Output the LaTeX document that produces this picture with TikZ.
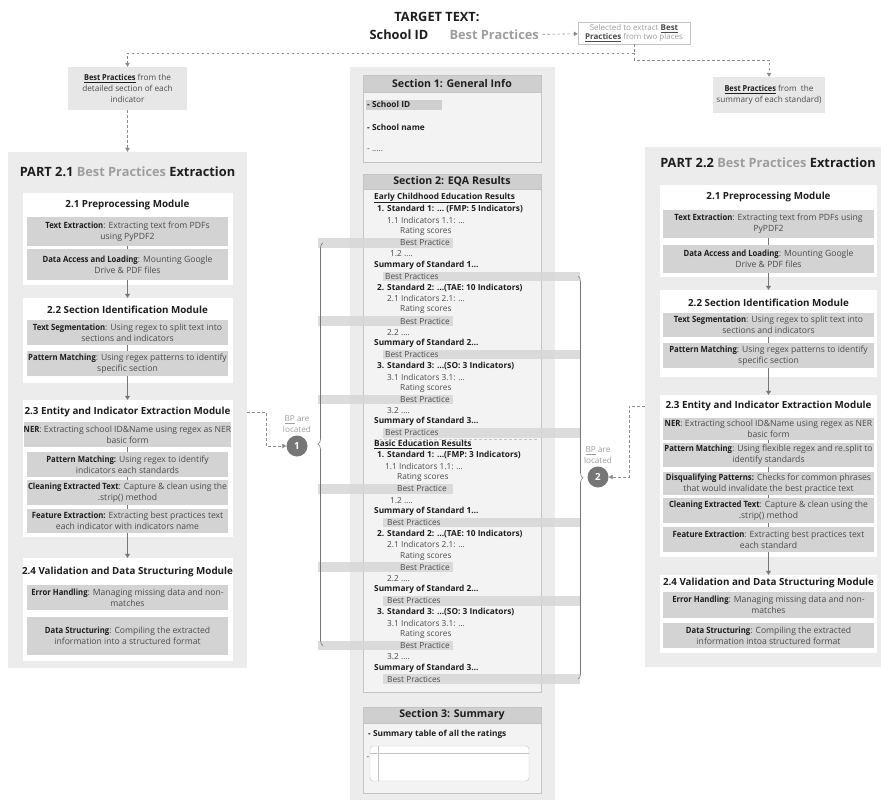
\documentclass[tikz,border=0pt]{standalone}
\usepackage{fontspec}
\setmainfont{Open Sans}
\newfontfamily\kwfont{Open Sans}[FakeStretch=0.9]
\usetikzlibrary{arrows.meta,positioning,decorations.pathreplacing}

\definecolor{panelbg}{RGB}{236,236,236}
\definecolor{subbg}{RGB}{211,211,211}
\definecolor{headbg}{RGB}{207,207,207}
\definecolor{secbg}{RGB}{243,243,243}
\definecolor{secline}{RGB}{196,196,196}
\definecolor{bandbg}{RGB}{214,214,214}
\definecolor{inkdark}{RGB}{30,30,30}
\definecolor{inkgray}{RGB}{75,75,75}
\definecolor{inklight}{RGB}{158,158,158}
\definecolor{linegray}{RGB}{118,118,118}

\newcommand{\ftiny}{\fontsize{8.2}{10.6}\selectfont}
\newcommand{\fsel}{\fontsize{8}{9.4}\selectfont}
\newcommand{\fline}{\fontsize{8.3}{10}\selectfont}
\newcommand{\fsub}{\fontsize{8.6}{10.6}\selectfont}
\newcommand{\fmod}{\fontsize{9.8}{12}\selectfont}
\newcommand{\fsec}{\fontsize{10.6}{12}\selectfont}
\newcommand{\fpart}{\fontsize{12.8}{15}\selectfont}
\newcommand{\ftop}{\fontsize{12.8}{15}\selectfont}
\newcommand{\kw}[1]{\textcolor{inkdark}{\kwfont\bfseries #1}}

\begin{document}
\begin{tikzpicture}[x=1pt,y=-1pt,
  panel/.style={fill=panelbg,inner sep=0pt},
  module/.style={fill=white,inner sep=0pt},
  subbox/.style={fill=subbg,inner sep=0pt,align=center,font=\fsub,text=inkgray},
  modtitle/.style={font=\fmod\bfseries,text=inkdark},
  parttitle/.style={font=\fpart\bfseries,text=inkdark},
  secbox/.style={draw=secline,fill=secbg,inner sep=0pt},
  sechead/.style={draw=secline,fill=headbg,inner sep=0pt,font=\fsec\bfseries,text=inkdark},
  grpline/.style={font=\fline\bfseries,text=inkdark,inner sep=0pt},
  stdline/.style={font=\fline\bfseries,text=inkdark,inner sep=0pt},
  txtline/.style={font=\fline,text=inkgray,inner sep=0pt},
  bpline/.style={font=\fline,text=inkgray,inner sep=0pt},
  notebox/.style={fill=subbg!55,inner sep=0pt,align=center,font=\ftiny,text=inkgray},
  flow/.style={draw=linegray,line width=.8pt,-{Triangle[width=5pt,length=4pt]}},
  link/.style={draw=linegray,line width=.6pt},
  dashflow/.style={draw=linegray!85,line width=.6pt,dash pattern=on 2.5pt off 2.5pt,-{Triangle[width=4.5pt,length=4pt]}},
  dashlink/.style={draw=linegray!85,line width=.6pt,dash pattern=on 2.5pt off 2.5pt},
  bpbrace/.style={draw=linegray,line width=.6pt,decorate,decoration={brace,amplitude=5pt}},
  bpdot/.style={circle,fill=linegray,minimum size=21pt,inner sep=0pt,font=\fmod\bfseries,text=white},
  bplabel/.style={align=center,font=\ftiny,text=inklight,inner sep=0pt}
]
\useasboundingbox (0,0) rectangle (881,800);

% target text
\node[font=\ftop\bfseries,text=inkdark] (target) at (437,17) {TARGET TEXT:};
\node[font=\ftop\bfseries,text=inkdark,anchor=east] (sid) at (432,35) {School ID};
\node[font=\ftop\bfseries,text=inklight,anchor=west] (sbp) at (446,35) {Best Practices};
\node[draw=secline,fill=white,inner sep=0pt,minimum width=112,minimum height=22,align=center,font=\fsel,text=inklight] (sel) at (634,33)
  {Selected to extract \textcolor{inkgray}{\bfseries\underline{Best}}\\\textcolor{inkgray}{\bfseries\underline{Practices}} from two places};
\draw[dashflow] (sbp) -- (sel);

\coordinate (split) at (634,53);
\node[notebox,minimum width=119,minimum height=43] (srcL) at (127.5,88.5)
  {\kw{\underline{Best Practices}} from the\\detailed section of each\\indicator};
\node[notebox,minimum width=112,minimum height=36] (srcR) at (769,95)
  {\kw{\underline{Best Practices}} from\ \ the\\summary of each standard)};
\draw[dashlink] (sel) -- (split);
\draw[dashflow] (split) -| (srcL);
\draw[dashflow] (split) -- ++(0,7) -| (srcR);

% panels
\node[panel,minimum width=239,minimum height=516] (P1) at (127.5,410) {};
\node[panel,minimum width=205,minimum height=733] (P0) at (452.5,433.5) {};
\node[panel,minimum width=236,minimum height=520] (P2) at (763,407) {};
\node[parttitle] (P1t) at (127.5,172) {PART 2.1 \textcolor{inklight}{Best Practices} Extraction};
\node[parttitle] (P2t) at (768,163) {PART 2.2 \textcolor{inklight}{Best Practices} Extraction};
\draw[dashflow] (srcL) -- (P1);

% part 2.1
\node[module,minimum width=210,minimum height=92] (L1) at (127.5,239) {};
\node[modtitle] (L1t) at (127.5,205) {2.1 Preprocessing Module};
\node[subbox,minimum width=201,minimum height=29] (L1a) at (127.5,231.5)
  {\kw{Text Extraction}: Extracting text from PDFs\\using PyPDF2};
\node[subbox,minimum width=201,minimum height=31] (L1b) at (127.5,264.5)
  {\kw{Data Access and Loading}: Mounting Google\\Drive \& PDF files};
\node[module,minimum width=210,minimum height=85] (L2) at (127.5,340.5) {};
\node[modtitle] (L2t) at (127.5,310) {2.2 Section Identification Module};
\node[subbox,minimum width=201,minimum height=25] (L2a) at (127.5,332.5)
  {\kw{Text Segmentation}: Using regex to split text into\\sections and indicators};
\node[subbox,minimum width=201,minimum height=25] (L2b) at (127.5,363.5)
  {\kw{Pattern Matching}: Using regex patterns to identify\\specific section};
\node[module,minimum width=210,minimum height=137] (L3) at (127.5,468.5) {};
\node[modtitle] (L3t) at (127.5,412) {2.3 Entity and Indicator Extraction Module};
\node[subbox,minimum width=201,minimum height=25] (L3a) at (127.5,434.5)
  {\kw{NER}: Extracting school ID\&Name using regex as NER\\basic form};
\node[subbox,minimum width=201,minimum height=25] (L3b) at (127.5,464.5)
  {\kw{Pattern Matching:} Using regex to identify\\indicators each standards};
\node[subbox,minimum width=201,minimum height=25] (L3c) at (127.5,492.5)
  {\kw{Cleaning Extracted Text}: Capture \& clean using the\\.strip() method};
\node[subbox,minimum width=201,minimum height=24] (L3d) at (127.5,521)
  {\kw{Feature Extraction:} Extracting best practices text\\each indicator with indicators name};
\node[module,minimum width=210,minimum height=103] (L4) at (127.5,609.5) {};
\node[modtitle] (L4t) at (127.5,572) {2.4 Validation and Data Structuring Module};
\node[subbox,minimum width=201,minimum height=25] (L4a) at (127.5,597.5)
  {\kw{Error Handling}: Managing missing data and non-\\matches};
\node[subbox,minimum width=201,minimum height=38] (L4b) at (127.5,636)
  {\kw{Data Structuring}: Compiling the extracted\\information into a structured format};
\draw[link] (L1a) -- (L1b);
\draw[flow] (L1b) -- (L2);
\draw[link] (L2a) -- (L2b);
\draw[flow] (L2b) -- (L3);
\draw[link] (L3a) -- (L3b);
\draw[link] (L3b) -- (L3c);
\draw[link] (L3c) -- (L3d);
\draw[flow] (L3d) -- (L4);

% part 2.2
\node[module,minimum width=217,minimum height=92] (R1) at (768.5,231) {};
\node[modtitle] (R1t) at (768.5,197) {2.1 Preprocessing Module};
\node[subbox,minimum width=211,minimum height=28] (R1a) at (768.5,224)
  {\kw{Text Extraction}: Extracting text from PDFs using\\PyPDF2};
\node[subbox,minimum width=211,minimum height=28] (R1b) at (768.5,259)
  {\kw{Data Access and Loading}: Mounting Google\\Drive \& PDF files};
\node[module,minimum width=217,minimum height=87] (R2) at (768.5,333.5) {};
\node[modtitle] (R2t) at (768.5,303) {2.2 Section Identification Module};
\node[subbox,minimum width=211,minimum height=24] (R2a) at (768.5,325)
  {\kw{Text Segmentation}: Using regex to split text into\\sections and indicators};
\node[subbox,minimum width=211,minimum height=25] (R2b) at (768.5,355.5)
  {\kw{Pattern Matching}: Using regex patterns to identify\\specific section};
\node[module,minimum width=217,minimum height=162] (R3) at (768.5,476) {};
\node[modtitle] (R3t) at (768.5,406) {2.3 Entity and Indicator Extraction Module};
\node[subbox,minimum width=211,minimum height=22] (R3a) at (768.5,429)
  {\kw{NER}: Extracting school ID\&Name using regex as NER\\basic form};
\node[subbox,minimum width=211,minimum height=24] (R3b) at (768.5,455)
  {\kw{Pattern Matching}: Using flexible regex and re.split to\\identify standards};
\node[subbox,minimum width=211,minimum height=23] (R3c) at (768.5,483.5)
  {\kw{Disqualifying Patterns:} Checks for common phrases\\that would invalidate the best practice text};
\node[subbox,minimum width=211,minimum height=25] (R3d) at (768.5,510.5)
  {\kw{Cleaning Extracted Text}: Capture \& clean using the\\.strip() method};
\node[subbox,minimum width=211,minimum height=25] (R3e) at (768.5,539.5)
  {\kw{Feature Extraction}: Extracting best practices text\\each standard};
\node[module,minimum width=217,minimum height=78] (R4) at (768.5,614) {};
\node[modtitle] (R4t) at (768.5,583) {2.4 Validation and Data Structuring Module};
\node[subbox,minimum width=211,minimum height=26] (R4a) at (768.5,605)
  {\kw{Error Handling}: Managing missing data and non-\\matches};
\node[subbox,minimum width=211,minimum height=25] (R4b) at (768.5,635.5)
  {\kw{Data Structuring}: Compiling the extracted\\information intoa structured format};
\draw[link] (R1a) -- (R1b);
\draw[flow] (R1b) -- (R2);
\draw[link] (R2a) -- (R2b);
\draw[flow] (R2b) -- (R3);
\draw[link] (R3a) -- (R3b);
\draw[link] (R3b) -- (R3c);
\draw[link] (R3c) -- (R3d);
\draw[link] (R3d) -- (R3e);
\draw[flow] (R3e) -- (R4);

% section 1
\node[secbox,minimum width=178,minimum height=87] (S1) at (452,118.5) {};
\node[sechead,minimum width=178,minimum height=17] (S1h) at (452,83.5) {Section 1: General Info};
\fill[headbg] (366,99.5) rectangle (442,109.5);
\node[stdline,anchor=west] (s1a) at (367,104.5) {- School ID};
\node[stdline,anchor=west] (s1b) at (367,127) {- School name};
\node[txtline,anchor=west] (s1c) at (367,150) {- .....};

% section 2
\node[secbox,minimum width=178,minimum height=518] (S2) at (452,433) {};
\node[sechead,minimum width=178,minimum height=15] (S2h) at (452,181.5) {Section 2: EQA Results};
\foreach \i in {4,11,18,26,33,40}
  \fill[bandbg,opacity=.85] (318,198+11.19*\i-4.8) rectangle (453,198+11.19*\i+4.8);
\foreach \i in {7,14,21,29,36,43}
  \fill[bandbg,opacity=.85] (383,198+11.19*\i-4.8) rectangle (580,198+11.19*\i+4.8);
\draw[dashlink,draw=secline] (374,439) -- (538,439);
\foreach \x/\s/\t [count=\i from 0] in {
  374/grpline/{\underline{Early Childhood Education Results}},
  377/stdline/{1. Standard 1: \dots\ (FMP: 5 Indicators)},
  387/txtline/{1.1 Indicators 1.1: \dots},
  400/txtline/{Rating scores},
  400/bpline/{Best Practice},
  390/txtline/{1.2 \dots.},
  374/stdline/{Summary of Standard 1\dots},
  385/bpline/{Best Practices},
  377/stdline/{2. Standard 2: \dots(TAE: 10 Indicators)},
  387/txtline/{2.1 Indicators 2.1: \dots},
  400/txtline/{Rating scores},
  400/bpline/{Best Practice},
  387/txtline/{2.2 \dots.},
  374/stdline/{Summary of Standard 2\dots},
  385/bpline/{Best Practices},
  377/stdline/{3. Standard 3: \dots(SO: 3 Indicators)},
  387/txtline/{3.1 Indicators 3.1: \dots},
  400/txtline/{Rating scores},
  400/bpline/{Best Practice},
  387/txtline/{3.2 \dots.},
  374/stdline/{Summary of Standard 3\dots},
  385/bpline/{Best Practices},
  374/grpline/{\underline{Basic Education Results}},
  377/stdline/{1. Standard 1: \dots(FMP: 3 Indicators)},
  385/txtline/{1.1 Indicators 1.1: \dots},
  397/txtline/{Rating scores},
  397/bpline/{Best Practice},
  390/txtline/{1.2 \dots.},
  374/stdline/{Summary of Standard 1\dots},
  387/bpline/{Best Practices},
  377/stdline/{2. Standard 2: \dots(TAE: 10 Indicators)},
  387/txtline/{2.1 Indicators 2.1: \dots},
  400/txtline/{Rating scores},
  400/bpline/{Best Practice},
  387/txtline/{2.2 \dots.},
  374/stdline/{Summary of Standard 2\dots},
  387/bpline/{Best Practices},
  377/stdline/{3. Standard 3: \dots(SO: 3 Indicators)},
  387/txtline/{3.1 Indicators 3.1: \dots},
  400/txtline/{Rating scores},
  400/bpline/{Best Practice},
  387/txtline/{3.2 \dots.},
  374/stdline/{Summary of Standard 3\dots},
  387/bpline/{Best Practices}}
  \node[\s,anchor=west] (ln\i) at (\x,198+11.19*\i) {\t};

% section 3
\node[secbox,minimum width=178,minimum height=86] (S3) at (452,750) {};
\node[sechead,minimum width=178,minimum height=16] (S3h) at (452,715) {Section 3: Summary};
\node[stdline,anchor=west] (s3a) at (368,734) {- Summary table of all the ratings};
\draw[secline,fill=white,rounded corners=3] (370,746) rectangle (529,781);
\draw[secline] (370,753) -- (529,753);
\draw[secline] (378,746) -- (378,781);
\node[txtline] (s3b) at (368,758) {-};

% where the best practices are
\draw[bpbrace] (323,645.6) -- (323,242.8);
\draw[bpbrace] (578,276.3) -- (578,679.2);
\node[bpdot] (c1) at (297,446) {1};
\node[bpdot] (c2) at (598,477) {2};
\node[bplabel,above=3pt of c1] (c1l) {\underline{BP} are\\located};
\node[bplabel,above=3pt of c2] (c2l) {\underline{BP} are\\located};
\draw[dashflow] (P1.east |- L3t) -- ++(19,0) |- (c1);
\draw[dashflow] (P2.west |- R3t) -- ++(-16,0) |- (c2);
\end{tikzpicture}
\end{document}
